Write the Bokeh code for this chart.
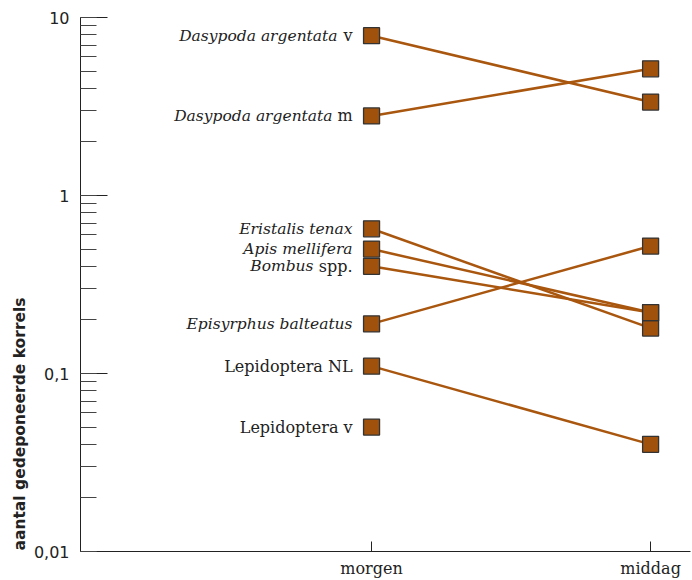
from bokeh.plotting import figure
from bokeh.models import Range1d, Title, FixedTicker, CustomJSTickFormatter, ColumnDataSource
from bokeh.core.properties import value
from bokeh.embed import file_html
from bokeh.resources import INLINE

# ---- data ----
times = ["morgen", "middag"]
species_italic = ["Dasypoda argentata", "Dasypoda argentata", "Eristalis tenax", "Apis mellifera",
                  "Bombus", "Episyrphus balteatus", "", ""]
species_roman = ["v", "m", "", "", "spp.", "", "Lepidoptera NL", "Lepidoptera v"]
morgen = [7.9, 2.8, 0.65, 0.50, 0.40, 0.19, 0.11, 0.05]
middag = [3.35, 5.15, 0.18, 0.22, 0.22, 0.52, 0.04, None]
y_label = "aantal gedeponeerde korrels"

LINE = "#A9560F"
FILL = "#A0520C"
SERIF = "DejaVu Serif"
SANS = "DejaVu Sans"

p = figure(width=692, height=580, y_axis_type="log",
           x_range=Range1d(-1.043, 1.143), y_range=Range1d(0.01, 10),
           output_backend="svg", toolbar_location=None,
           min_border_left=80, min_border_right=2, min_border_top=17, min_border_bottom=29)
p.outline_line_color = None
p.xgrid.visible = False
p.ygrid.visible = False
p.background_fill_color = "white"

# x axis
xi = list(range(len(times)))
p.xaxis.ticker = FixedTicker(ticks=xi)
p.xaxis.major_label_overrides = {i: t for i, t in zip(xi, times)}
p.xaxis.major_tick_in = 10
p.xaxis.major_tick_out = 0
p.xaxis.minor_tick_line_color = None
p.xaxis.major_label_text_font = SERIF
p.xaxis.major_label_text_font_size = "16px"
p.xaxis.major_label_text_color = "#222222"
p.xaxis.major_label_standoff = 7
p.xaxis.axis_line_color = "#222222"
p.xaxis.major_tick_line_color = "#222222"

# y axis
p.yaxis.major_tick_in = 27
p.yaxis.major_tick_out = 0
p.yaxis.minor_tick_in = 16
p.yaxis.minor_tick_out = 0
p.yaxis.formatter = CustomJSTickFormatter(code="return tick.toString().replace('.', ',');")
p.yaxis.major_label_text_font = SANS
p.yaxis.major_label_text_font_size = "16px"
p.yaxis.major_label_text_color = "#222222"
p.yaxis.major_label_standoff = 11
p.yaxis.axis_line_color = "#222222"
p.yaxis.major_tick_line_color = "#222222"
p.yaxis.minor_tick_line_color = "#444444"

# lines
seg = [(a, b) for a, b in zip(morgen, middag) if b is not None]
p.segment(x0=[0] * len(seg), y0=[a for a, _ in seg], x1=[1] * len(seg), y1=[b for _, b in seg],
          line_color=LINE, line_width=2.5)

# squares
p.scatter(x=[0] * len(morgen), y=morgen, marker="square", size=16,
          fill_color=FILL, line_color="#333333", line_width=1.3)
mid = [b for b in middag if b is not None]
p.scatter(x=[1] * len(mid), y=mid, marker="square", size=16,
          fill_color=FILL, line_color="#333333", line_width=1.3)

# species labels (roman part right-aligned, italic part before it)
ROMAN_W = {"v": 15, "m": 20, "spp.": 39}

src = ColumnDataSource(dict(
    x=[0] * len(morgen), y=morgen,
    it=species_italic, ro=species_roman,
    itoff=[-19 - ROMAN_W.get(r, 0) for r in species_roman],
))
p.text(x="x", y="y", text="ro", source=src, x_offset=-19, text_align="right",
       text_baseline="middle", text_font=value(SERIF), text_font_size="16px", text_color="#222222")
p.text(x="x", y="y", text="it", source=src, x_offset="itoff", text_align="right",
       text_baseline="middle", text_font=value(SERIF), text_font_style="italic",
       text_font_size="15.5px", text_color="#222222")

# y label, bottom aligned
p.add_layout(Title(text=y_label, align="left", text_font=SANS, text_font_style="bold",
                   text_font_size="15.5px", text_color="#222222", offset=1, standoff=4), "left")

open("out.html", "w").write(file_html(p, INLINE))
